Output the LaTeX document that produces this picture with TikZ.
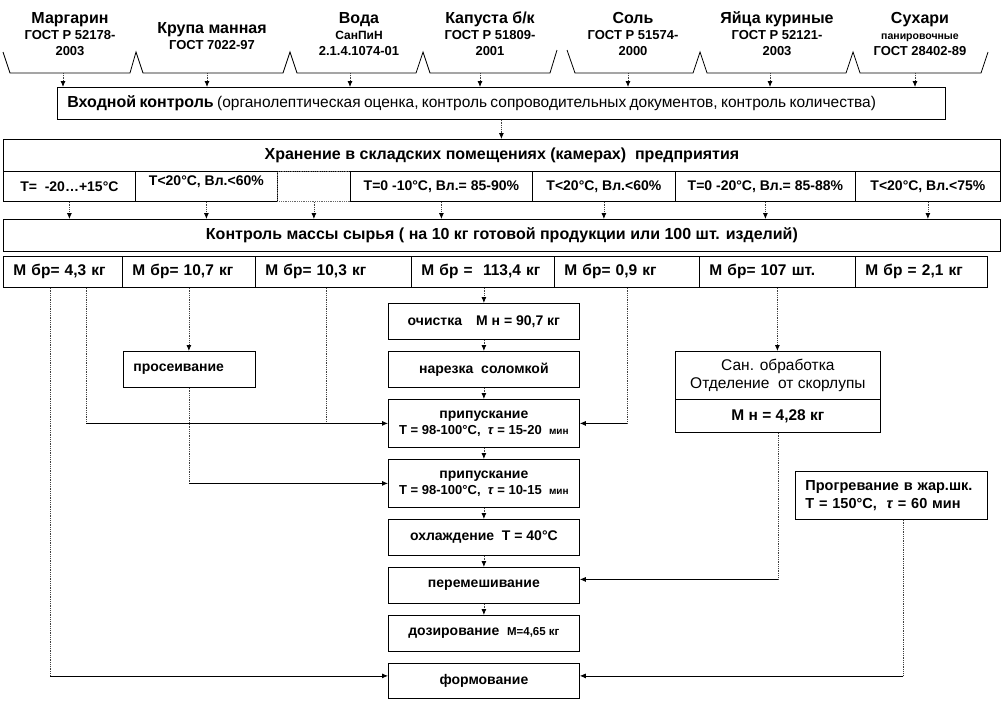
\documentclass[tikz,border=0pt]{standalone}
\usepackage{fontspec}
\setmainfont{Liberation Sans}
\usepackage{tikz}
\usetikzlibrary{arrows.meta,calc}

\newcommand\fsz[2]{\fontsize{#1}{#2}\selectfont}

\begin{document}
\begin{tikzpicture}[x=1pt,y=-1pt,
  box/.style={draw,line width=0.8pt,anchor=north west,inner sep=0pt,align=center},
  ingr/.style={inner sep=0pt,align=center,font=\bfseries\fsz{13}{16}},
  cell/.style={box,minimum height=30pt,font=\bfseries\fsz{14}{16}},
  mcell/.style={box,align=left,inner xsep=10pt,minimum height=31pt,font=\bfseries\fsz{15.5}{18}},
  proc/.style={box,minimum width=191pt,minimum height=36pt,font=\bfseries\fsz{14}{16}},
  vl/.style={line width=0.8pt,densely dotted,black!75},
  hl/.style={line width=0.8pt},
  arr/.style={-{Latex[length=6pt,width=5pt,black]}}]
\useasboundingbox (0,0) rectangle (1002,702);

% raw materials
\draw[hl] (3,52) -- (10,73) -- (130,73) -- (136,52) -- (143,73) -- (283,73) -- (290,52)
  -- (297,73) -- (416,73) -- (423,52) -- (430,73) -- (550,73) -- (557,50);
\draw[hl] (567,50) -- (575,73) -- (693,73) -- (700,52) -- (707,73) -- (846,73) -- (853,52)
  -- (860,73) -- (981,73) -- (988,52);
\node[ingr] (margarin) at (70,34) {{\fsz{16}{16}Маргарин}\\ГОСТ Р 52178-\\2003};
\node[ingr] (krupa) at (212,36) {{\fsz{16}{16}Крупа манная}\\ГОСТ 7022-97};
\node[ingr] (voda) at (359,34) {{\fsz{16}{16}Вода}\\{\fsz{12}{16}СанПиН}\\2.1.4.1074-01};
\node[ingr] (kapusta) at (490,34) {{\fsz{16}{16}Капуста б/к}\\ГОСТ Р 51809-\\2001};
\node[ingr] (sol) at (633,34) {{\fsz{16}{16}Соль}\\ГОСТ Р 51574-\\2000};
\node[ingr] (yaica) at (777,34) {{\fsz{16}{16}Яйца куриные}\\ГОСТ Р 52121-\\2003};
\node[ingr] (suhari) at (920,34) {{\fsz{16}{16}Сухари}\\{\fsz{10.5}{16}панировочные}\\ГОСТ 28402-89};

\node[box,align=left,text width=868pt,inner xsep=10pt,minimum height=32pt] (vhod) at (57,87)
  {\makebox[838pt][s]{\fsz{16}{18}\bfseries Входной контроль\mdseries\fsz{15.5}{18} (органолептическая оценка, контроль сопроводительных документов, контроль количества)}};
\foreach \x [count=\i] in {63,207,350,480,628,770,915} {
  \coordinate (g\i) at (\x,73);
  \draw[vl,arr] (g\i) -- (g\i |- vhod.north);
}

% storage
\node[box,minimum width=997pt,minimum height=32pt,font=\bfseries\fsz{16}{18}] (hran) at (3,139)
  {Хранение в складских помещениях (камерах)\ \ предприятия};
\draw[vl,arr] (vhod.south) -- (vhod.south |- hran.north);
\node[cell,minimum width=132pt] (c1) at (3,171) {Т=\ \ -20…+15°С};
\node[cell,minimum width=142pt] (c2) at (135,171) {\raisebox{12pt}{Т<20°С, Вл.<60\%}};
\node[cell,minimum width=73pt,densely dotted,draw=black!60] (c3) at (277,171) {};
\node[cell,minimum width=182pt] (c4) at (350,171) {Т=0 -10°С, Вл.= 85-90\%};
\node[cell,minimum width=143pt] (c5) at (532,171) {Т<20°С, Вл.<60\%};
\node[cell,minimum width=180pt] (c6) at (675,171) {Т=0 -20°С, Вл.= 85-88\%};
\node[cell,minimum width=145pt] (c7) at (855,171) {Т<20°С, Вл.<75\%};

% mass control
\node[box,minimum width=997pt,minimum height=32pt,font=\bfseries\fsz{16}{18}] (kontrol) at (3,219)
  {Контроль массы сырья ( на 10 кг готовой продукции или 100 шт. изделий)};
\foreach \c in {c1,c2,c3,c4,c5,c6,c7}
  \draw[vl,arr] (\c.south) -- (\c.south |- kontrol.north);
\node[mcell,text width=99pt] (m1) at (3,256) {М бр= 4,3 кг};
\node[mcell,text width=113pt] (m2) at (122,256) {М бр= 10,7 кг};
\node[mcell,text width=136pt] (m3) at (255,256) {М бр= 10,3 кг};
\node[mcell,text width=123pt] (m4) at (411,256) {М бр =\ \ 113,4 кг};
\node[mcell,text width=125pt] (m5) at (554,256) {М бр= 0,9 кг};
\node[mcell,text width=136pt] (m6) at (699,256) {М бр= 107 шт.};
\node[mcell,text width=112pt] (m7) at (855,256) {М бр = 2,1 кг};

% processing
\node[proc] (ochistka) at (388,303) {очистка\quad М н = 90,7 кг};
\node[proc] (narezka) at (388,351) {нарезка\ \ соломкой};
\node[proc,minimum height=48pt] (pripusk1) at (388,399)
  {припускание\\{\fsz{13}{15}Т = 98-100°С,\ \ \textit{τ} = 15-20\ \ \fsz{10}{15}мин}};
\node[proc,minimum height=48pt] (pripusk2) at (388,459)
  {припускание\\{\fsz{13}{15}Т = 98-100°С,\ \ \textit{τ} = 10-15\ \ \fsz{10}{15}мин}};
\node[proc] (ohlazhd) at (388,519) {охлаждение\ \ Т = 40°С};
\node[proc] (peremesh) at (388,567) {перемешивание};
\node[proc] (dozir) at (388,615) {дозирование\ \ {\fsz{11.5}{14}М=4,65 кг}};
\node[proc,minimum height=35pt] (formov) at (388,663) {формование};
\draw[vl,arr] (ochistka.north |- m4.south) -- (ochistka.north);
\foreach \a/\b in {ochistka/narezka,narezka/pripusk1,pripusk1/pripusk2,pripusk2/ohlazhd,ohlazhd/peremesh,peremesh/dozir}
  \draw[vl,arr] (\a.south) -- (\b.north);

\node[proc,minimum width=132pt,align=left,text width=112pt,inner xsep=10pt] (prosev) at (123,351) {просеивание};
\node[box,minimum width=205pt,minimum height=48pt,font=\fsz{15.5}{18}] (san) at (675,351)
  {Сан. обработка\\Отделение\ \ от скорлупы};
\node[box,minimum width=205pt,minimum height=33pt,font=\bfseries\fsz{15.5}{18}] (san2) at (675,399) {М н = 4,28 кг};
\node[box,align=left,text width=172pt,inner xsep=10pt,minimum height=48pt,font=\bfseries\fsz{14.5}{18}] (progrev) at (795,471)
  {Прогревание в жар.шк.\\Т = 150°С,\ \ \textit{τ} = 60 мин};

% flows
\coordinate (k1) at ([xshift=47pt]m1.south west);
\coordinate (k2) at ([xshift=83pt]m1.south west);
\coordinate (k3) at ([xshift=71pt]m3.south west);
\coordinate (f1) at ([yshift=5pt]formov.west);
\coordinate (f2) at ([yshift=5pt]formov.east);
\coordinate (p1) at ([yshift=6pt]peremesh.east);
\coordinate (k4) at ([xshift=12pt]progrev.south);
\draw[vl] (k1) -- (k1 |- f1);
\draw[hl,arr] (k1 |- f1) -- (f1);
\draw[vl] (k2) -- (k2 |- pripusk1.west);
\draw[vl] (k3) -- (k3 |- pripusk1.west);
\draw[hl,arr] (k2 |- pripusk1.west) -- (pripusk1.west);
\draw[vl,arr] (m2.south) -- (m2.south |- prosev.north);
\draw[vl] (prosev.south) -- (prosev.south |- pripusk2.west);
\draw[hl,arr] (prosev.south |- pripusk2.west) -- (pripusk2.west);
\draw[vl] (m5.south) -- (m5.south |- pripusk1.east);
\draw[hl,arr] (m5.south |- pripusk1.east) -- (pripusk1.east);
\draw[vl,arr] (m6.south) -- (m6.south |- san.north);
\draw[vl] (san2.south) -- (san2.south |- p1);
\draw[hl,arr] (san2.south |- p1) -- (p1);
\draw[vl] (k4) -- (k4 |- f2);
\draw[hl,arr] (k4 |- f2) -- (f2);
\end{tikzpicture}
\end{document}
